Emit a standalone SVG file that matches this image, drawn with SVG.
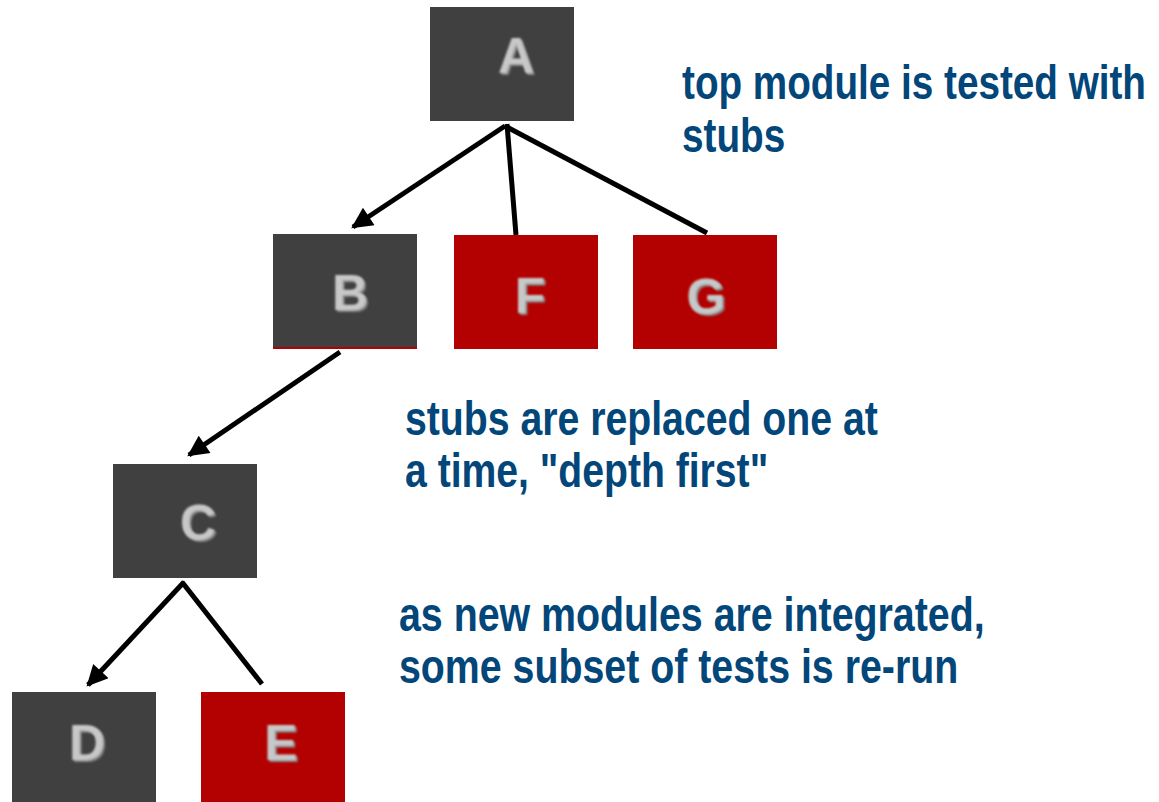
<svg xmlns="http://www.w3.org/2000/svg" width="1159" height="802" viewBox="0 0 1159 802">
  <style>
    .dark { fill: #404040; }
    .stub { fill: #b30000; }
    .lbl { font-family: "Liberation Sans", Arial, sans-serif; font-weight: bold; font-size: 50px; fill: #c8c8c8; text-anchor: middle; filter: url(#soft); }
    .note { font-family: "Liberation Sans", Arial, sans-serif; font-weight: bold; font-size: 48px; fill: #02467a; }
    .edge { stroke: #000; stroke-width: 5; fill: none; stroke-linecap: butt; }
  </style>
  <defs>
    <marker id="arrow" viewBox="0 0 10 10" refX="9" refY="5" markerWidth="4.8" markerHeight="4.2" orient="auto" markerUnits="strokeWidth">
      <path d="M0,0 L10,5 L0,10 z" fill="#000"/>
    </marker>
    <filter id="soft" x="-20%" y="-20%" width="140%" height="140%">
      <feGaussianBlur in="SourceAlpha" stdDeviation="1.2" result="b"/>
      <feOffset in="b" dx="1.5" dy="1.5" result="o"/>
      <feFlood flood-color="#888888"/>
      <feComposite in2="o" operator="in" result="shadow"/>
      <feGaussianBlur in="SourceGraphic" stdDeviation="0.9" result="g"/>
      <feMerge>
        <feMergeNode in="shadow"/>
        <feMergeNode in="g"/>
      </feMerge>
    </filter>
  </defs>

  <!-- connectors -->
  <g id="connectors">
    <line class="edge" x1="505" y1="126" x2="353" y2="227" marker-end="url(#arrow)"/>
    <line class="edge" x1="507" y1="124" x2="516" y2="235"/>
    <line class="edge" x1="505" y1="126" x2="707" y2="233"/>
    <line class="edge" x1="340" y1="352" x2="189" y2="455" marker-end="url(#arrow)"/>
    <line class="edge" x1="184" y1="582" x2="88" y2="685" marker-end="url(#arrow)"/>
    <line class="edge" x1="182" y1="582" x2="262" y2="684"/>
  </g>

  <!-- modules -->
  <g id="node-A">
    <rect class="dark" x="430" y="7" width="144" height="114"/>
    <text class="lbl" x="516" y="73">A</text>
  </g>
  <g id="node-B">
    <rect class="dark" x="273" y="234" width="144" height="115"/>
    <rect class="stub" x="273" y="347" width="144" height="2"/>
    <text class="lbl" x="350" y="310">B</text>
  </g>
  <g id="node-F">
    <rect class="stub" x="454" y="235" width="144" height="114"/>
    <text class="lbl" x="530" y="313">F</text>
  </g>
  <g id="node-G">
    <rect class="stub" x="633" y="235" width="144" height="114"/>
    <text class="lbl" x="706" y="314">G</text>
  </g>
  <g id="node-C">
    <rect class="dark" x="113" y="464" width="144" height="114"/>
    <text class="lbl" x="198" y="540">C</text>
  </g>
  <g id="node-D">
    <rect class="dark" x="12" y="692" width="144" height="110"/>
    <text class="lbl" x="87" y="760">D</text>
  </g>
  <g id="node-E">
    <rect class="stub" x="201" y="692" width="144" height="110"/>
    <text class="lbl" x="281" y="760">E</text>
  </g>

  <!-- notes: condensed bold, horizontally squeezed to 80% -->
  <g id="notes">
    <text class="note" transform="translate(682,99) scale(0.8,1)" textLength="580" lengthAdjust="spacingAndGlyphs">top module is tested with</text>
    <text class="note" transform="translate(682,152) scale(0.8,1)" textLength="129" lengthAdjust="spacingAndGlyphs">stubs</text>
    <text class="note" transform="translate(405,435) scale(0.8,1)" textLength="591" lengthAdjust="spacingAndGlyphs">stubs are replaced one at</text>
    <text class="note" transform="translate(405,487) scale(0.8,1)" textLength="454" lengthAdjust="spacingAndGlyphs">a time, "depth first"</text>
    <text class="note" transform="translate(399,631) scale(0.8,1)" textLength="732" lengthAdjust="spacingAndGlyphs">as new modules are integrated,</text>
    <text class="note" transform="translate(399,683) scale(0.8,1)" textLength="699" lengthAdjust="spacingAndGlyphs">some subset of tests is re-run</text>
  </g>
</svg>
